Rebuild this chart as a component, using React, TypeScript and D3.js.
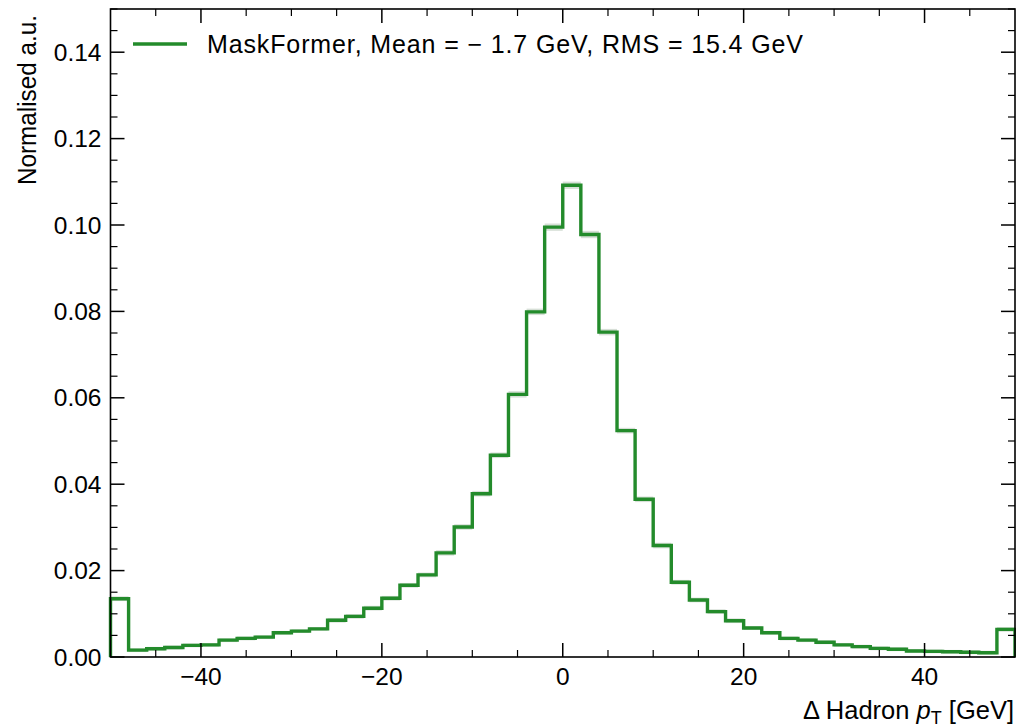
import React, { useEffect } from "react";
import * as d3 from "d3";

const binEdgesStart = -50;
const binWidth = 2;
const values = [
  0.0135, 0.0016, 0.0019, 0.0022, 0.0027, 0.0028, 0.0039, 0.0043, 0.0046, 0.0056,
  0.0060, 0.0065, 0.0085, 0.0094, 0.0113, 0.0136, 0.0166, 0.0190, 0.0241, 0.0301,
  0.0378, 0.0467, 0.0608, 0.0799, 0.0995, 0.1092, 0.0978, 0.0752, 0.0524, 0.0365,
  0.0258, 0.0173, 0.0132, 0.0105, 0.0084, 0.0067, 0.0056, 0.0043, 0.0039, 0.0034,
  0.0028, 0.0024, 0.0020, 0.0018, 0.0014, 0.0013, 0.0012, 0.0011, 0.0010, 0.0064,
];
const errors = [
  0.0002, 0.0001, 0.0001, 0.0001, 0.0001, 0.0001, 0.0001, 0.0001, 0.0001, 0.0001,
  0.0001, 0.0001, 0.0002, 0.0002, 0.0002, 0.0002, 0.0002, 0.0002, 0.0003, 0.0003,
  0.0003, 0.0003, 0.0004, 0.0004, 0.0005, 0.0005, 0.0005, 0.0004, 0.0003, 0.0003,
  0.0003, 0.0002, 0.0002, 0.0002, 0.0002, 0.0001, 0.0001, 0.0001, 0.0001, 0.0001,
  0.0001, 0.0001, 0.0001, 0.0001, 0.0001, 0.0001, 0.0001, 0.0001, 0.0001, 0.0002,
];
const xMajorTicks = [-40, -20, 0, 20, 40];
const xMinorTicks = [-45, -35, -30, -25, -15, -10, -5, 5, 10, 15, 25, 30, 35, 45];
const yMajorTicks = [0, 0.02, 0.04, 0.06, 0.08, 0.1, 0.12, 0.14];
const legendLabel = "MaskFormer, Mean =  \u2212 1.7 GeV, RMS = 15.4 GeV";

const W = 1016;
const H = 727;
const margin = { left: 110.5, right: 1015, top: 9, bottom: 657 };
const FONT = "'Liberation Sans', Arial, Helvetica, sans-serif";
const GREEN = "#238b2b";

export default function App() {
  useEffect(() => {
    document.body.style.margin = "0";
  }, []);

  const x = d3.scaleLinear().domain([-50, 50]).range([margin.left, margin.right]);
  const y = d3.scaleLinear().domain([0, 0.15]).range([margin.bottom, margin.top]);

  const pts: [number, number][] = [];
  pts.push([binEdgesStart, 0]);
  values.forEach((v, i) => {
    const x0 = binEdgesStart + i * binWidth;
    pts.push([x0, v]);
    pts.push([x0 + binWidth, v]);
  });
  pts.push([binEdgesStart + values.length * binWidth, 0]);
  const line = d3
    .line<[number, number]>()
    .x((d) => x(d[0]))
    .y((d) => y(d[1]));

  const yMinor = d3.range(0, 0.1501, 0.005).filter(
    (t) => !yMajorTicks.some((m) => Math.abs(m - t) < 1e-6)
  );

  const majLen = 14;
  const minLen = 7;
  const fs = 24.5;

  return (
    <div style={{ position: "absolute", left: 0, top: 0 }}>
      <svg width={W} height={H} style={{ display: "block", background: "#fff" }}>
        <rect x={0} y={0} width={W} height={H} fill="#fff" />
        {values.map((v, i) => {
          const x0 = binEdgesStart + i * binWidth;
          return (
            <rect
              key={"e" + i}
              x={x(x0)}
              width={x(x0 + binWidth) - x(x0)}
              y={y(v + errors[i]) - 1.5}
              height={y(v - errors[i]) - y(v + errors[i]) + 3}
              fill="#a7b8a7"
              opacity={0.45}
            />
          );
        })}
        <path d={line(pts) || ""} fill="none" stroke={GREEN} strokeWidth={3.4} strokeLinejoin="miter" />

        <rect
          x={margin.left}
          y={margin.top}
          width={margin.right - margin.left}
          height={margin.bottom - margin.top}
          fill="none"
          stroke="#000"
          strokeWidth={1.6}
        />
        {xMajorTicks.map((t) => (
          <g key={"xm" + t}>
            <line x1={x(t)} x2={x(t)} y1={margin.bottom} y2={margin.bottom - majLen} stroke="#000" strokeWidth={1.5} />
            <line x1={x(t)} x2={x(t)} y1={margin.top} y2={margin.top + majLen} stroke="#000" strokeWidth={1.5} />
            <text x={x(t)} y={margin.bottom + 28} textAnchor="middle" fontFamily={FONT} fontSize={fs} fill="#000">
              {t < 0 ? "\u2212" + Math.abs(t) : String(t)}
            </text>
          </g>
        ))}
        {xMinorTicks.map((t) => (
          <g key={"xn" + t}>
            <line x1={x(t)} x2={x(t)} y1={margin.bottom} y2={margin.bottom - minLen} stroke="#000" strokeWidth={1.2} />
            <line x1={x(t)} x2={x(t)} y1={margin.top} y2={margin.top + minLen} stroke="#000" strokeWidth={1.2} />
          </g>
        ))}
        {yMajorTicks.map((t) => (
          <g key={"ym" + t}>
            <line x1={margin.left} x2={margin.left + majLen} y1={y(t)} y2={y(t)} stroke="#000" strokeWidth={1.5} />
            <line x1={margin.right} x2={margin.right - majLen} y1={y(t)} y2={y(t)} stroke="#000" strokeWidth={1.5} />
            <text x={margin.left - 9} y={y(t) + 8.5} textAnchor="end" fontFamily={FONT} fontSize={fs} fill="#000">
              {t.toFixed(2)}
            </text>
          </g>
        ))}
        {yMinor.map((t, i) => (
          <g key={"yn" + i}>
            <line x1={margin.left} x2={margin.left + minLen} y1={y(t)} y2={y(t)} stroke="#000" strokeWidth={1.2} />
            <line x1={margin.right} x2={margin.right - minLen} y1={y(t)} y2={y(t)} stroke="#000" strokeWidth={1.2} />
          </g>
        ))}

        <text
          transform={`translate(${36},${margin.top + 6}) rotate(-90)`}
          textAnchor="end"
          fontFamily={FONT}
          fontSize={25}
          fill="#000"
          textLength={170}
          lengthAdjust="spacingAndGlyphs"
        >
          Normalised a.u.
        </text>
        <text x={margin.right - 1} y={719} textAnchor="end" fontFamily={FONT} fontSize={25.5} fill="#000">
          {"\u0394 Hadron "}
          <tspan fontStyle="italic">p</tspan>
          <tspan fontSize={18} dy={5}>T</tspan>
          <tspan dy={-5}>{" [GeV]"}</tspan>
        </text>

        <line x1={133} x2={187} y1={44} y2={44} stroke={GREEN} strokeWidth={3.5} />
        <text
          x={207}
          y={53}
          fontFamily={FONT}
          fontSize={25}
          fill="#000"
          textLength={596}
          lengthAdjust="spacing"
        >
          {legendLabel}
        </text>
      </svg>
    </div>
  );
}
